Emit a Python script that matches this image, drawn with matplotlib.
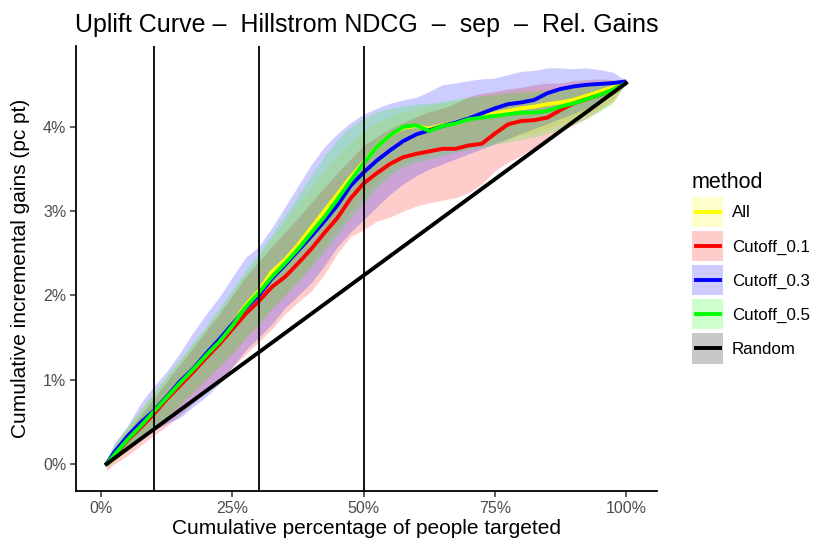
import matplotlib
matplotlib.use("Agg")
import matplotlib.pyplot as plt
from matplotlib.patches import Rectangle
from matplotlib.lines import Line2D
from matplotlib.ticker import FuncFormatter
from matplotlib.legend_handler import HandlerBase

plt.rcParams['font.family'] = ['Liberation Sans', 'DejaVu Sans']

x = [0.01, 0.025, 0.05, 0.075, 0.10, 0.125, 0.15, 0.175, 0.20, 0.225, 0.25, 0.275, 0.30,
     0.325, 0.35, 0.375, 0.40, 0.425, 0.45, 0.475, 0.50, 0.525, 0.55, 0.575, 0.60,
     0.625, 0.65, 0.675, 0.70, 0.725, 0.75, 0.775, 0.80, 0.825, 0.85, 0.875, 0.90,
     0.925, 0.95, 0.975, 1.0]

all_mean = [0.0, 0.11, 0.29, 0.44, 0.61, 0.80, 0.97, 1.13, 1.30, 1.47, 1.66, 1.88, 2.05,
            2.28, 2.42, 2.60, 2.80, 3.00, 3.20, 3.40, 3.58, 3.76, 3.90, 3.99, 4.01,
            3.98, 4.02, 4.04, 4.10, 4.13, 4.16, 4.19, 4.22, 4.24, 4.27, 4.29, 4.32,
            4.37, 4.42, 4.47, 4.52]
all_lo = [-0.05, 0.03, 0.15, 0.28, 0.40, 0.55, 0.70, 0.85, 1.00, 1.15, 1.30, 1.48, 1.65,
          1.85, 2.00, 2.18, 2.38, 2.58, 2.80, 3.00, 3.18, 3.35, 3.50, 3.58, 3.64,
          3.68, 3.72, 3.74, 3.76, 3.79, 3.82, 3.86, 3.90, 3.94, 3.98, 4.03, 4.08,
          4.14, 4.22, 4.32, 4.52]
all_hi = [0.04, 0.22, 0.45, 0.65, 0.85, 1.05, 1.25, 1.43, 1.62, 1.82, 2.03, 2.25, 2.45,
          2.68, 2.88, 3.08, 3.28, 3.48, 3.66, 3.82, 3.95, 4.05, 4.12, 4.18, 4.22,
          4.25, 4.28, 4.31, 4.35, 4.38, 4.40, 4.42, 4.44, 4.45, 4.46, 4.47, 4.49,
          4.51, 4.53, 4.54, 4.52]

c01_mean = [0.0, 0.10, 0.28, 0.43, 0.59, 0.77, 0.93, 1.09, 1.26, 1.42, 1.60, 1.78, 1.93,
            2.10, 2.22, 2.38, 2.55, 2.74, 2.92, 3.15, 3.33, 3.45, 3.56, 3.64, 3.68,
            3.71, 3.74, 3.74, 3.78, 3.80, 3.92, 4.03, 4.07, 4.08, 4.11, 4.20, 4.28,
            4.33, 4.38, 4.44, 4.52]
c01_lo = [-0.08, 0.0, 0.10, 0.22, 0.34, 0.45, 0.58, 0.72, 0.86, 1.00, 1.15, 1.30, 1.45,
          1.60, 1.78, 1.92, 2.05, 2.25, 2.50, 2.70, 2.78, 2.88, 2.93, 3.00, 3.06,
          3.10, 3.13, 3.16, 3.22, 3.32, 3.48, 3.58, 3.66, 3.76, 3.86, 3.94, 4.02,
          4.10, 4.20, 4.30, 4.52]
c01_hi = [0.03, 0.18, 0.38, 0.58, 0.78, 0.98, 1.18, 1.38, 1.58, 1.78, 2.00, 2.22, 2.40,
          2.58, 2.75, 2.92, 3.10, 3.28, 3.45, 3.62, 3.78, 3.88, 3.98, 4.05, 4.12,
          4.18, 4.22, 4.28, 4.36, 4.40, 4.42, 4.45, 4.47, 4.50, 4.52, 4.52, 4.55,
          4.56, 4.57, 4.56, 4.52]

c03_mean = [0.0, 0.14, 0.33, 0.49, 0.63, 0.80, 0.98, 1.13, 1.31, 1.48, 1.66, 1.85, 2.00,
            2.20, 2.36, 2.53, 2.70, 2.88, 3.07, 3.30, 3.46, 3.60, 3.72, 3.83, 3.91,
            3.96, 4.01, 4.05, 4.10, 4.16, 4.22, 4.27, 4.29, 4.32, 4.40, 4.45, 4.48,
            4.50, 4.51, 4.52, 4.54]
c03_lo = [-0.03, 0.05, 0.18, 0.30, 0.40, 0.48, 0.55, 0.68, 0.80, 0.95, 1.15, 1.35, 1.50,
          1.66, 1.85, 2.00, 2.15, 2.35, 2.58, 2.75, 2.90, 3.05, 3.20, 3.32, 3.42,
          3.50, 3.56, 3.62, 3.68, 3.74, 3.80, 3.86, 3.92, 3.98, 4.04, 4.10, 4.16,
          4.22, 4.30, 4.38, 4.53]
c03_hi = [0.05, 0.25, 0.45, 0.72, 0.92, 1.10, 1.32, 1.56, 1.78, 1.98, 2.22, 2.45, 2.58,
          2.80, 3.05, 3.30, 3.55, 3.76, 3.92, 4.05, 4.15, 4.22, 4.28, 4.32, 4.35,
          4.42, 4.50, 4.52, 4.55, 4.57, 4.58, 4.62, 4.66, 4.67, 4.70, 4.70, 4.69,
          4.70, 4.68, 4.65, 4.55]

c05_mean = [0.0, 0.11, 0.29, 0.45, 0.62, 0.79, 0.96, 1.12, 1.29, 1.45, 1.64, 1.86, 2.03,
            2.22, 2.38, 2.55, 2.74, 2.93, 3.14, 3.36, 3.57, 3.76, 3.90, 4.00, 4.02,
            3.95, 4.01, 4.04, 4.09, 4.11, 4.13, 4.15, 4.17, 4.17, 4.19, 4.24, 4.28,
            4.33, 4.38, 4.44, 4.52]
c05_lo = [-0.04, 0.04, 0.16, 0.29, 0.42, 0.56, 0.71, 0.86, 1.01, 1.16, 1.32, 1.50, 1.66,
          1.84, 2.00, 2.16, 2.34, 2.52, 2.72, 2.92, 3.10, 3.28, 3.42, 3.52, 3.58,
          3.62, 3.66, 3.70, 3.73, 3.76, 3.79, 3.82, 3.85, 3.88, 3.92, 3.97, 4.03,
          4.10, 4.18, 4.28, 4.52]
c05_hi = [0.04, 0.22, 0.44, 0.64, 0.84, 1.04, 1.24, 1.44, 1.64, 1.85, 2.07, 2.30, 2.50,
          2.72, 2.95, 3.18, 3.42, 3.65, 3.85, 4.00, 4.10, 4.18, 4.22, 4.25, 4.27,
          4.28, 4.30, 4.33, 4.35, 4.37, 4.38, 4.40, 4.41, 4.42, 4.43, 4.45, 4.47,
          4.49, 4.50, 4.52, 4.52]

random_x = [0.01, 1.0]
random_y = [0.0, 4.52]

cutoffs = [0.1, 0.3, 0.5]
methods = ["All", "Cutoff_0.1", "Cutoff_0.3", "Cutoff_0.5", "Random"]
colors = ["#FFFF00", "#FF0000", "#0000FF", "#00FF00", "#000000"]

series = [(all_mean, all_lo, all_hi), (c01_mean, c01_lo, c01_hi),
          (c03_mean, c03_lo, c03_hi), (c05_mean, c05_lo, c05_hi)]

fig = plt.figure(figsize=(8.30, 5.54), dpi=100)
ax = fig.add_axes([76/830, 1 - 491/554, (657-76)/830, (491-46)/554])

for (m, lo, hi), col in zip(series, colors[:4]):
    ax.fill_between(x, lo, hi, color=col, alpha=0.2, linewidth=0)
for (m, lo, hi), col in zip(series, colors[:4]):
    ax.plot(x, m, color=col, lw=2.8, solid_capstyle='butt')
ax.plot(random_x, random_y, color='black', lw=2.8)

for c in cutoffs:
    ax.axvline(c, color='black', lw=1.3)

ax.set_xlim(-0.048, 1.059)
ax.set_ylim(-0.32, 4.96)
ax.set_xticks([0, 0.25, 0.5, 0.75, 1.0])
ax.set_yticks([0, 1, 2, 3, 4])
ax.xaxis.set_major_formatter(FuncFormatter(lambda v, p: f"{v*100:.0f}%"))
ax.yaxis.set_major_formatter(FuncFormatter(lambda v, p: f"{v:.0f}%"))

for s in ['top', 'right']:
    ax.spines[s].set_visible(False)
for s in ['left', 'bottom']:
    ax.spines[s].set_linewidth(1.3)
    ax.spines[s].set_color('black')
ax.tick_params(axis='both', which='major', labelsize=11.5, labelcolor='#4D4D4D',
               color='#333333', length=4, width=1.1, pad=3)

ax.set_xlabel("Cumulative percentage of people targeted", fontsize=15, labelpad=2)
ax.set_ylabel("Cumulative incremental gains (pc pt)", fontsize=15, labelpad=9)
ax.set_title("Uplift Curve \u2013  Hillstrom NDCG  \u2013  sep  \u2013  Rel. Gains",
             fontsize=18, pad=10)


class KeyHandler(HandlerBase):
    def __init__(self, fill, col):
        super().__init__()
        self.fill = fill
        self.col = col

    def create_artists(self, legend, orig_handle, xdescent, ydescent,
                       width, height, fontsize, trans):
        r = Rectangle((-xdescent, -ydescent), width, height,
                      facecolor=self.fill, edgecolor='none', transform=trans)
        yc = -ydescent + height / 2
        ln = Line2D([-xdescent + width * 0.12, -xdescent + width * 0.88], [yc, yc],
                    color=self.col, lw=2.8, transform=trans)
        return [r, ln]


fills = ["#FFFFCC", "#FFCCCC", "#CCCCFF", "#CCFFCC", "#C8C8C8"]
handles = [Line2D([], [], color=c) for c in colors]
hmap = {h: KeyHandler(f, c) for h, f, c in zip(handles, fills, colors)}

leg = fig.legend(handles, methods, loc='upper left', handler_map=hmap,
                 bbox_to_anchor=(692/830, 1 - 172/554), frameon=False,
                 fontsize=12.2, title="method", title_fontsize=15.5,
                 handlelength=1.85, handleheight=2.35, labelspacing=0.24,
                 handletextpad=0.5, borderpad=0, borderaxespad=0)
leg._legend_box.align = "left"

fig.savefig("out.png", dpi=100)
